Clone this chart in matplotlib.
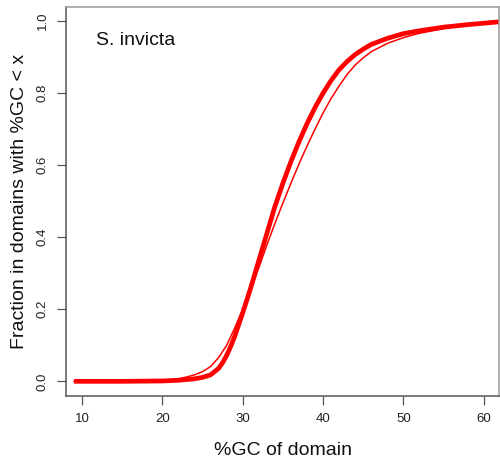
import numpy as np
import matplotlib
matplotlib.use('Agg')
import matplotlib.pyplot as plt

plt.rcParams['font.family'] = ['Liberation Sans', 'DejaVu Sans']

# cumulative %GC distributions
gc_main = [9, 15, 20, 22, 24, 25, 26, 27, 27.5, 28, 28.5, 29, 30, 31, 32, 33, 34, 35,
           36, 37, 38, 39, 40, 41, 42, 43, 44, 45, 46, 48, 50, 52, 55, 58, 62]
frac_main = [0, 0, 0.001, 0.003, 0.007, 0.011, 0.018, 0.036, 0.052, 0.072, 0.097,
             0.125, 0.19, 0.26, 0.335, 0.41, 0.485, 0.55, 0.61, 0.665, 0.715, 0.76,
             0.80, 0.835, 0.865, 0.888, 0.907, 0.922, 0.935, 0.952, 0.965, 0.973,
             0.983, 0.99, 0.998]

gc_alt = [9, 15, 20, 21, 22, 23, 24, 25, 26, 27, 28, 29, 30, 31, 32, 33, 34, 35, 36,
          37, 38, 39, 40, 41, 42, 43, 44, 45, 46, 48, 50, 52, 55, 58, 62]
frac_alt = [0, 0, 0.001, 0.003, 0.007, 0.012, 0.018, 0.027, 0.041, 0.066, 0.1, 0.148,
            0.2, 0.255, 0.315, 0.378, 0.438, 0.495, 0.55, 0.603, 0.653, 0.70, 0.745,
            0.785, 0.82, 0.852, 0.878, 0.898, 0.915, 0.938, 0.954, 0.966, 0.979,
            0.99, 0.998]

xticks = [10, 20, 30, 40, 50, 60]
yticks = [0.0, 0.2, 0.4, 0.6, 0.8, 1.0]

fig = plt.figure(figsize=(5.0, 4.66), dpi=100)
ax = fig.add_axes([0.132, 0.150, 0.866, 0.835])

ax.plot(gc_main, frac_main, color='#ff0000', lw=3.4, solid_capstyle='butt',
        solid_joinstyle='round')
ax.plot(gc_alt, frac_alt, color='#ff0000', lw=1.1, solid_joinstyle='round')

ax.set_xlim(8.0, 61.9)
ax.set_ylim(-0.041, 1.039)
ax.set_xticks(xticks)
ax.set_yticks(yticks)
ax.set_xticklabels([str(v) for v in xticks], fontsize=9.5, color='#222222')
ax.set_yticklabels([f'{v:.1f}' for v in yticks], fontsize=9.5, color='#222222',
                   rotation=90, va='center')
ax.tick_params(length=6.5, width=0.9, color='#555555', pad=6)

for side in ['left', 'bottom']:
    ax.spines[side].set_color('#555555')
    ax.spines[side].set_linewidth(1.1)
for side in ['top', 'right']:
    ax.spines[side].set_color('#999999')
    ax.spines[side].set_linewidth(1.1)

ax.set_xlabel('%GC of domain', fontsize=14, color='#111111', labelpad=12)
ax.set_ylabel('Fraction in domains with %GC < x', fontsize=14, color='#111111',
              labelpad=6)
ax.text(11.7, 0.945, 'S. invicta', fontsize=14, color='#111111', va='center')

fig.savefig('out.png', dpi=100, facecolor='white')
